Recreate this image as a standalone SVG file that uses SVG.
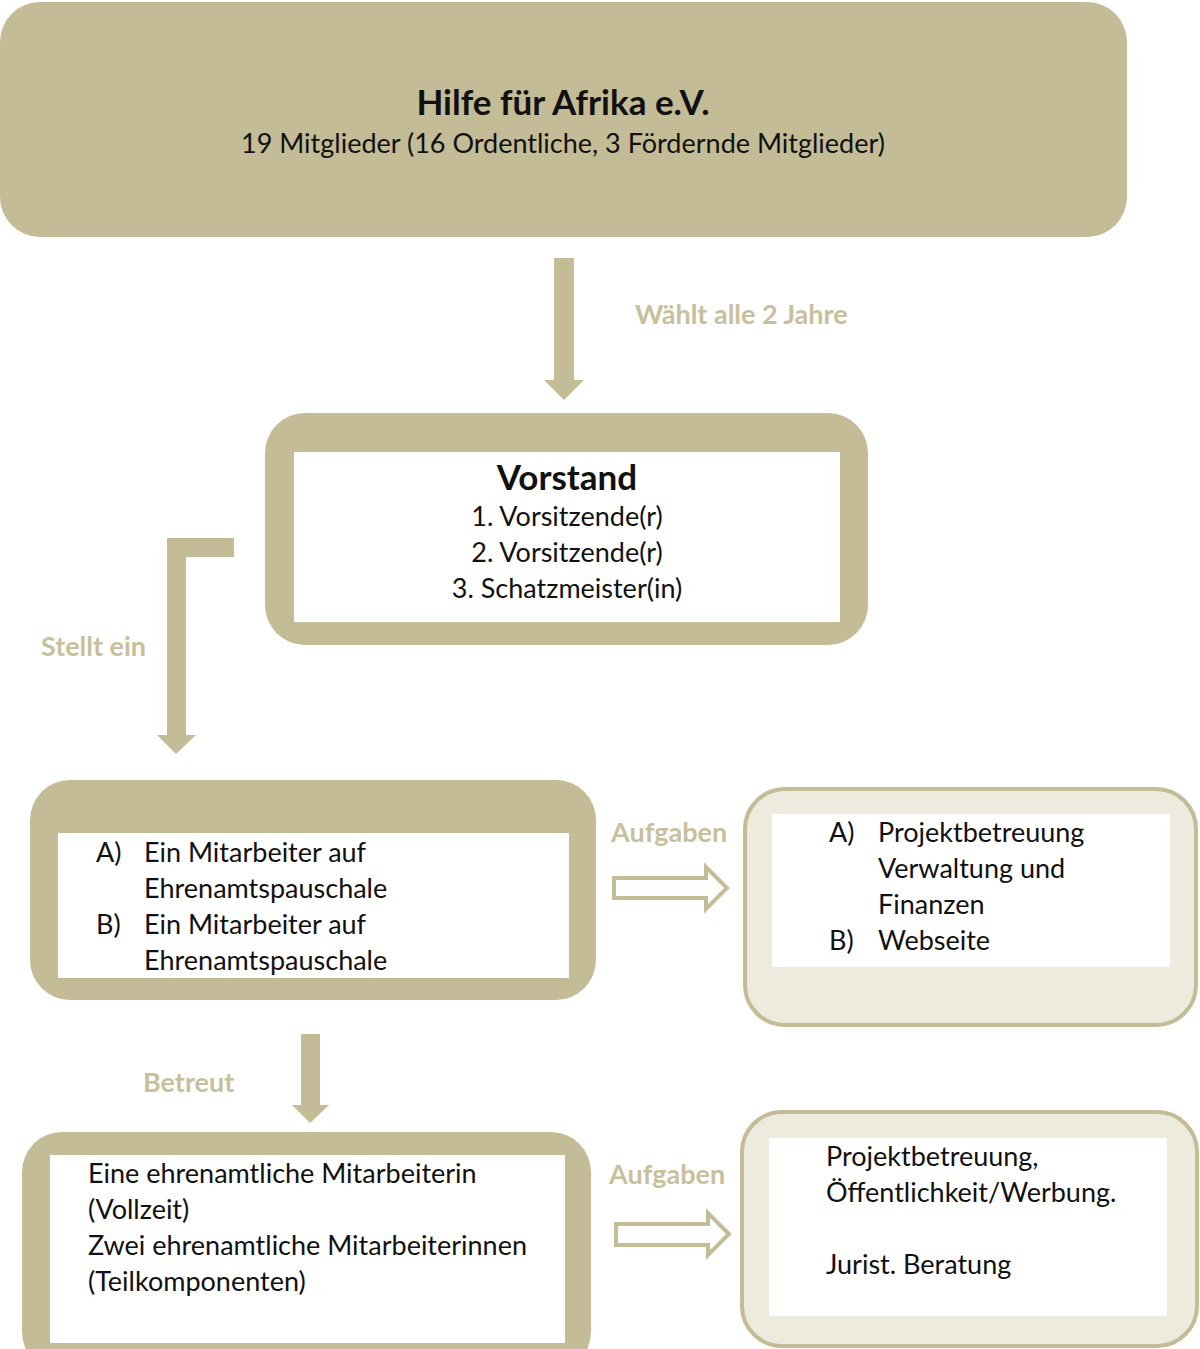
<svg xmlns="http://www.w3.org/2000/svg" width="1200" height="1349" viewBox="0 0 1200 1349">
<style>
.tan{fill:#c4bc96}
.inner{fill:#ffffff}
.light{fill:#edeade;stroke:#c4bc96;stroke-width:4}
.t{font-family:Lato,"Liberation Sans",sans-serif;font-size:27px;fill:#111}
.c{text-anchor:middle}
.lbl{font-family:Lato,"Liberation Sans",sans-serif;font-size:27px;font-weight:bold;fill:#c8c09c}
.hollow{fill:#ffffff;stroke:#c4bc96;stroke-width:4;stroke-linejoin:miter}
</style>
<rect width="1200" height="1349" fill="#ffffff"/>
<g id="node-verein">
<rect class="tan" x="0" y="2" width="1127" height="235" rx="40"/>
<text class="t c" x="563" y="115" style="font-size:35px;font-weight:bold">Hilfe für Afrika e.V.</text>
<text class="t c" x="563" y="153">19 Mitglieder (16 Ordentliche, 3 Fördernde Mitglieder)</text>
</g>
<g id="node-vorstand">
<rect class="tan" x="265" y="413" width="603" height="232" rx="40"/>
<rect class="inner" x="294" y="452" width="546" height="170"/>
<text class="t c" x="567" y="490" style="font-size:35px;font-weight:bold">Vorstand</text>
<text class="t c" x="567" y="526">1. Vorsitzende(r)</text>
<text class="t c" x="567" y="562">2. Vorsitzende(r)</text>
<text class="t c" x="567" y="598">3. Schatzmeister(in)</text>
</g>
<g id="node-mitarbeiter">
<rect class="tan" x="30" y="780" width="566" height="220" rx="40"/>
<rect class="inner" x="58" y="833" width="511" height="145"/>
<text class="t" x="96" y="862">A)</text>
<text class="t" x="144" y="862">Ein Mitarbeiter auf</text>
<text class="t" x="144" y="898">Ehrenamtspauschale</text>
<text class="t" x="96" y="934">B)</text>
<text class="t" x="144" y="934">Ein Mitarbeiter auf</text>
<text class="t" x="144" y="970">Ehrenamtspauschale</text>
</g>
<g id="node-aufgaben1">
<rect class="light" x="745" y="789" width="451" height="236" rx="40"/>
<rect class="inner" x="772" y="814" width="398" height="153"/>
<text class="t" x="829" y="842">A)</text>
<text class="t" x="878" y="842">Projektbetreuung</text>
<text class="t" x="878" y="878">Verwaltung und</text>
<text class="t" x="878" y="914">Finanzen</text>
<text class="t" x="829" y="950">B)</text>
<text class="t" x="878" y="950">Webseite</text>
</g>
<g id="node-ehrenamt">
<rect class="tan" x="22" y="1132" width="569" height="240" rx="40"/>
<rect class="inner" x="50" y="1155" width="515" height="188"/>
<text class="t" x="88" y="1183">Eine ehrenamtliche Mitarbeiterin</text>
<text class="t" x="88" y="1219">(Vollzeit)</text>
<text class="t" x="88" y="1255">Zwei ehrenamtliche Mitarbeiterinnen</text>
<text class="t" x="88" y="1291">(Teilkomponenten)</text>
</g>
<g id="node-aufgaben2">
<rect class="light" x="742" y="1112" width="455" height="234" rx="40"/>
<rect class="inner" x="769" y="1138" width="398" height="178"/>
<text class="t" x="826" y="1166">Projektbetreuung,</text>
<text class="t" x="826" y="1202">Öffentlichkeit/Werbung.</text>
<text class="t" x="826" y="1274">Jurist. Beratung</text>
</g>
<g id="connectors">
<polygon class="tan" points="554,258 574,258 574,380 584,380 564,400 544,380 554,380"/>
<text class="lbl" x="635" y="324">Wählt alle 2 Jahre</text>
<polygon class="tan" points="167,538 234,538 234,557 186,557 186,735 196,735 176,754 157,735 167,735"/>
<text class="lbl" x="41" y="656">Stellt ein</text>
<text class="lbl" x="611" y="842">Aufgaben</text>
<polygon class="hollow" points="614,878 706,878 706,867 727,888 706,909 706,898 614,898"/>
<polygon class="tan" points="301,1034 320,1034 320,1105 329,1105 310,1123 292,1105 301,1105"/>
<text class="lbl" x="143" y="1092">Betreut</text>
<text class="lbl" x="609" y="1184">Aufgaben</text>
<polygon class="hollow" points="616,1224 708,1224 708,1213 729,1234 708,1255 708,1245 616,1245"/>
</g>
</svg>
